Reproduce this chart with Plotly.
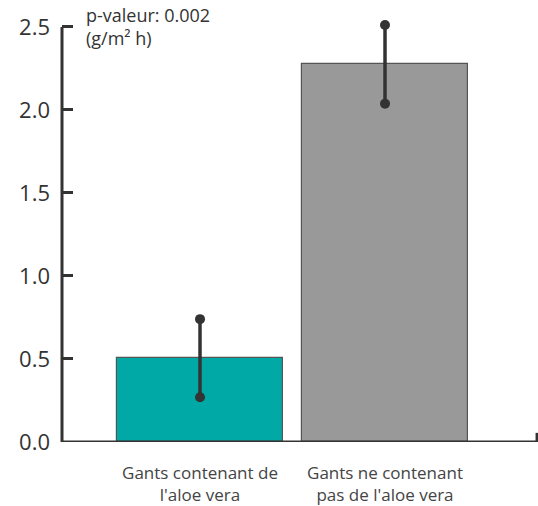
import plotly.graph_objects as go

categories = ["Gants contenant de<br>l'aloe vera", "Gants ne contenant<br>pas de l'aloe vera"]
values = [0.505, 2.275]
errors = [0.235, 0.237]
colors = ["#00A9A5", "#999999"]
ytick_vals = [0.0, 0.5, 1.0, 1.5, 2.0, 2.5]
ytick_text = ["0.0", "0.5", "1.0", "1.5", "2.0", "2.5"]
note = "p-valeur: 0.002<br>(g/m² h)"

xpos = list(range(len(categories)))

fig = go.Figure()
fig.add_trace(go.Bar(
    x=xpos, y=values, width=0.897,
    marker=dict(color=colors, line=dict(color="#555555", width=1.2)),
    hoverinfo="skip", showlegend=False,
))
for i, (v, e) in enumerate(zip(values, errors)):
    fig.add_trace(go.Scatter(
        x=[xpos[i], xpos[i]], y=[v - e, v + e], mode="lines+markers",
        line=dict(color="#333333", width=3.5),
        marker=dict(color="#333333", size=10),
        cliponaxis=False, showlegend=False, hoverinfo="skip",
    ))

font_family = "Open Sans, DejaVu Sans, sans-serif"
fig.update_layout(
    width=538, height=506,
    margin=dict(l=62, r=0, t=17, b=64),
    plot_bgcolor="white", paper_bgcolor="white",
    bargap=0,
    xaxis=dict(
        range=[-0.746, 1.827], tickvals=xpos, ticktext=categories,
        showline=False, showgrid=False, zeroline=False, ticks="",
        tickfont=dict(size=17, color="#444444", family=font_family),
        ticklabelstandoff=19, automargin=False,
    ),
    yaxis=dict(
        range=[0, 2.56], tickvals=ytick_vals, ticktext=ytick_text,
        showline=False,
        ticks="inside", ticklen=11, tickwidth=3, tickcolor="#333333",
        showgrid=False, zeroline=False,
        tickfont=dict(size=22, color="#333333", family=font_family),
        ticklabelstandoff=11, automargin=False,
    ),
)
fig.add_shape(type="line", xref="paper", yref="y", x0=0, x1=0, y0=0, y1=2.5,
              line=dict(color="#333333", width=3))
fig.add_shape(type="line", xref="paper", yref="y", x0=0, x1=1, y0=0, y1=0,
              line=dict(color="#333333", width=3))
fig.add_shape(type="line", xref="paper", yref="y", x0=0.998, x1=0.998, y0=0, y1=0.055,
              line=dict(color="#333333", width=3))
fig.add_annotation(
    xref="paper", yref="paper", x=0.046, y=1.037, xanchor="left", yanchor="top",
    text=note, showarrow=False, align="left",
    font=dict(size=18, color="#333333", family=font_family),
)
fig.write_html("out.html", config={"displayModeBar": False},
               post_script="document.body.style.margin='0';")
